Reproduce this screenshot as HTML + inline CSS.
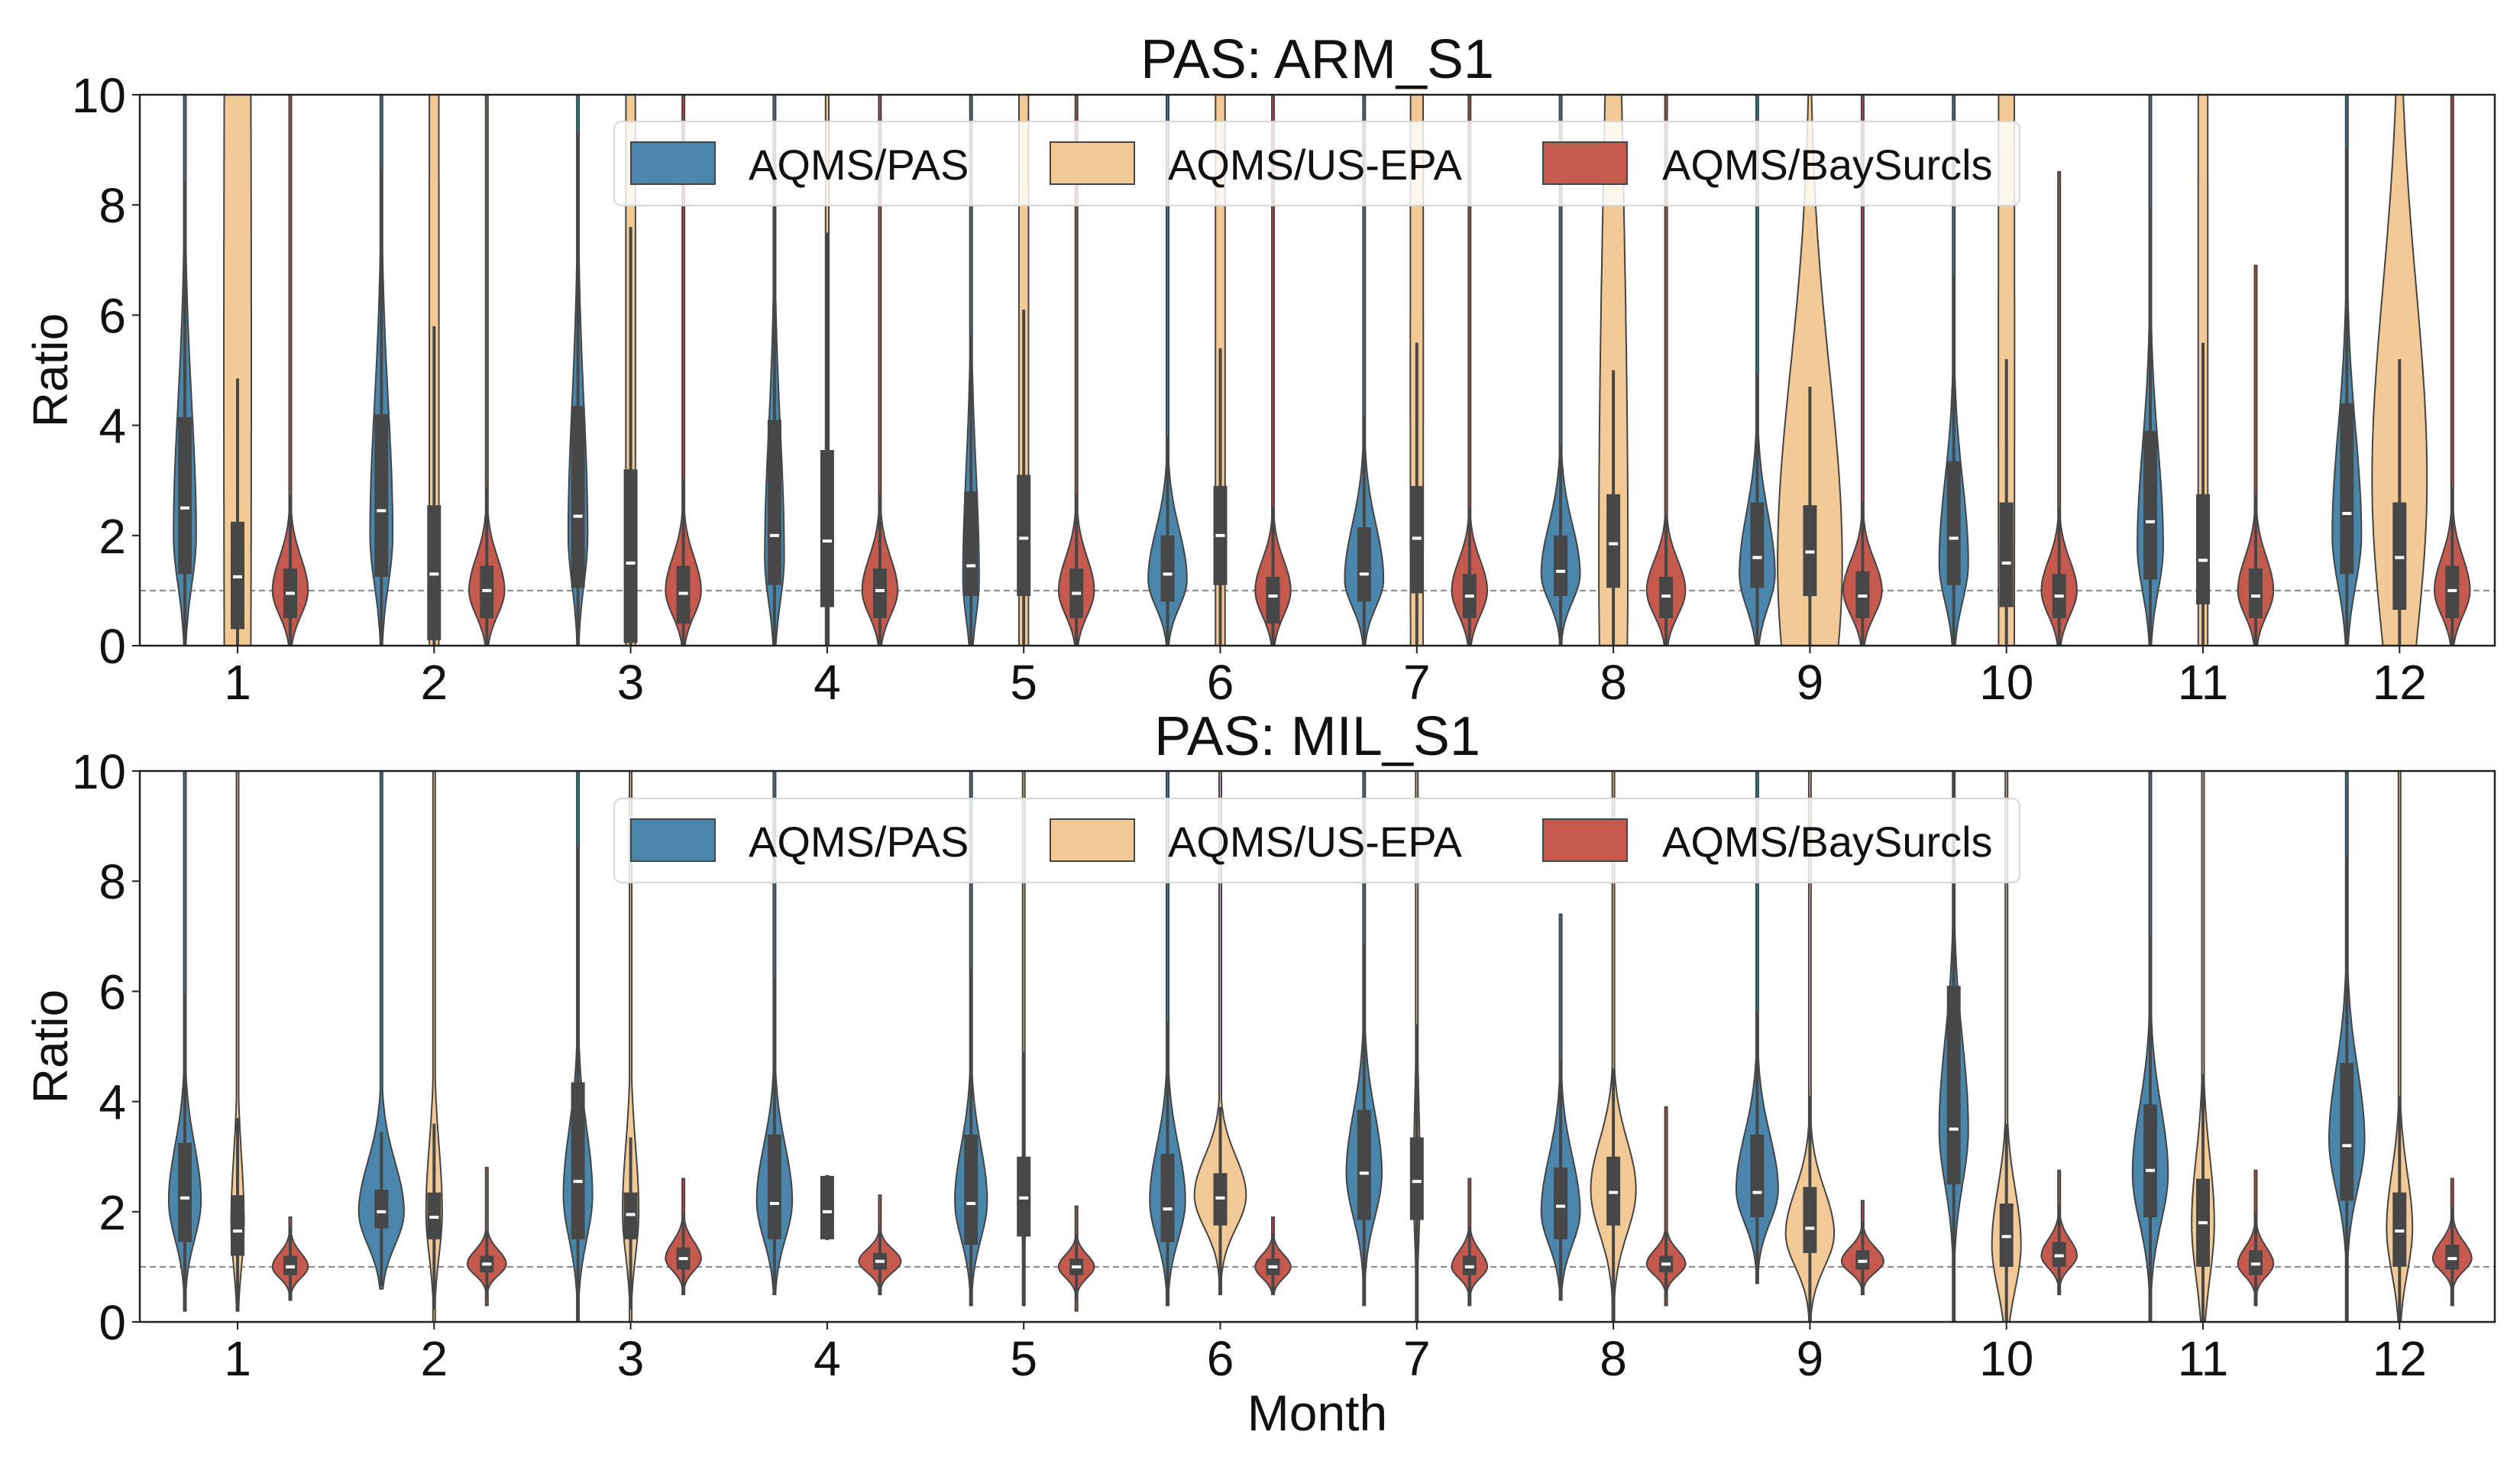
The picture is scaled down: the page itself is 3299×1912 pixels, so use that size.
<!DOCTYPE html>
<html><head><meta charset="utf-8">
<style>
html,body{margin:0;padding:0;background:#fff;}
svg{display:block;font-family:"Liberation Sans Narrow","Liberation Sans","DejaVu Sans",sans-serif;}
</style></head>
<body>
<svg id="chart" width="3299" height="1912" viewBox="0 0 3299 1912" xmlns="http://www.w3.org/2000/svg"></svg>
<script>
const months = [1,2,3,4,5,6,7,8,9,10,11,12];
const yTicks = [0,2,4,6,8,10];
const seriesNames = ["AQMS/PAS","AQMS/US-EPA","AQMS/BaySurcls"];

// ---- Panel 1: ARM_S1 ----
const armPasMed  = [2.5,2.45,2.35,2.0,1.45,1.3,1.3,1.35,1.6,1.95,2.25,2.4];
const armPasQ1   = [1.3,1.25,1.05,1.1,0.9,0.8,0.8,0.9,1.05,1.1,1.2,1.3];
const armPasQ3   = [4.15,4.2,4.35,4.1,2.8,2.0,2.15,2.0,2.6,3.35,3.9,4.4];
const armPasPeak = [2.0,2.0,2.0,1.6,1.2,1.2,1.2,1.3,1.3,1.5,1.8,2.0];
const armPasW    = [7,7,6,6,5,12,12,12,11,9,8,9];
const armPasSLo  = [0.9,0.9,0.9,0.8,0.7,0.5,0.5,0.5,0.6,0.7,0.8,0.9];
const armPasSHi  = [2.4,2.4,2.4,2.3,2.0,0.9,1.0,0.9,1.1,1.5,1.8,1.9];
const armPasLo   = [0,0,0,0,0,0,0,0,0,0,0,0];
const armPasHi   = [10,10,10,10,10,10,10,10,10,10,10,10];

const armEpaMed  = [1.25,1.3,1.5,1.9,1.95,2.0,1.95,1.85,1.7,1.5,1.55,1.6];
const armEpaQ1   = [0.3,0.1,0.05,0.7,0.9,1.1,0.95,1.05,0.9,0.7,0.75,0.65];
const armEpaQ3   = [2.25,2.55,3.2,3.55,3.1,2.9,2.9,2.75,2.55,2.6,2.75,2.6];
const armEpaWhi  = [4.85,5.8,7.6,7.5,6.1,5.4,5.5,5.0,4.7,5.2,5.5,5.2];
const armEpaPeak = [5,5,5,5,5,5,5,1.5,1.5,5,5,3.0];
const armEpaW    = [8.5,3,3,1,3,3,4,9,20,5,3,17];
const armEpaSLo  = [20,20,20,20,20,20,20,5,3,20,20,3];
const armEpaSHi  = [20,20,20,20,20,20,20,8,3.5,20,20,3.5];
const armEpaLo   = [0,0,0,0,0,0,0,0,0,0,0,0];
const armEpaHi   = [10,10,10,10,10,10,10,10,10,10,10,10];

const armBayMed  = [0.95,1.0,0.95,1.0,0.95,0.9,0.9,0.9,0.9,0.9,0.9,1.0];
const armBayQ1   = [0.5,0.5,0.4,0.5,0.5,0.4,0.5,0.5,0.5,0.5,0.5,0.5];
const armBayQ3   = [1.4,1.45,1.45,1.4,1.4,1.25,1.3,1.25,1.35,1.3,1.4,1.45];
const armBayPeak = [1.0,1.0,1.0,1.0,1.0,1.0,1.0,1.0,1.0,1.0,1.0,1.0];
const armBayW    = [11,11,11,11,11,11,11,12,12,11,11,11];
const armBaySLo  = [0.45,0.45,0.45,0.45,0.45,0.45,0.45,0.45,0.45,0.45,0.45,0.45];
const armBaySHi  = [0.6,0.6,0.6,0.6,0.6,0.55,0.55,0.55,0.55,0.55,0.6,0.6];
const armBayLo   = [0,0,0,0,0,0,0,0,0,0,0,0];
const armBayHi   = [10,10,10,10,10,10,10,10,10,8.6,6.9,10];

// ---- Panel 2: MIL_S1 ----
const milPasMed  = [2.25,2.0,2.55,2.15,2.15,2.05,2.7,2.1,2.35,3.5,2.75,3.2];
const milPasQ1   = [1.45,1.7,1.5,1.5,1.4,1.45,1.85,1.5,1.9,2.5,1.9,2.2];
const milPasQ3   = [3.25,2.4,4.35,3.4,3.4,3.05,3.85,2.8,3.4,6.1,3.95,4.7];
const milPasPeak = [2.2,2.0,2.3,2.2,2.2,2.2,2.7,2.0,2.4,3.5,2.7,3.3];
const milPasW    = [10,14,9,11,10,11,11,12,13,9,11,11];
const milPasSLo  = [0.7,0.6,0.8,0.7,0.7,0.7,0.8,0.6,0.6,1.0,0.9,0.9];
const milPasSHi  = [1.0,0.9,1.2,1.0,1.0,1.0,1.1,1.0,1.0,1.6,1.2,1.3];
const milPasLo   = [0.2,0.6,0,0.5,0.3,0.3,0.3,0.4,0.7,0,0,0];
const milPasHi   = [10,10,10,10,10,10,10,7.4,10,10,10,10];

const milEpaMed  = [1.65,1.9,1.95,2.0,2.25,2.25,2.55,2.35,1.7,1.55,1.8,1.65];
const milEpaQ1   = [1.2,1.5,1.5,1.5,1.55,1.75,1.85,1.75,1.25,1.0,1.0,1.0];
const milEpaQ3   = [2.3,2.35,2.35,2.65,3.0,2.7,3.35,3.0,2.45,2.15,2.6,2.35];
const milEpaWhi  = [3.7,3.6,3.35,2.65,4.9,3.9,5.4,4.6,4.1,3.6,4.5,4.1];
const milEpaPeak = [1.8,2.0,2.0,2.0,2.2,2.3,2.5,2.4,1.6,1.4,1.8,1.7];
const milEpaW    = [4,5,5,1,1,16,2,14,15,9,7,8];
const milEpaSLo  = [0.8,0.8,0.8,1,1,0.6,1,0.8,0.6,0.8,1.0,0.8];
const milEpaSHi  = [1.2,1.2,1.2,1,1,0.7,1.5,0.9,0.8,1.0,1.2,1.0];
const milEpaLo   = [0.2,0,0,1.5,0.3,0.5,0,0,0,0,0,0];
const milEpaHi   = [10,10,10,2.65,10,10,10,10,10,10,10,10];

const milBayMed  = [1.0,1.05,1.15,1.1,1.0,1.0,1.0,1.05,1.1,1.2,1.05,1.15];
const milBayQ1   = [0.85,0.9,0.95,0.95,0.85,0.85,0.85,0.9,0.95,1.0,0.85,0.95];
const milBayQ3   = [1.2,1.2,1.35,1.25,1.15,1.15,1.2,1.2,1.3,1.45,1.3,1.4];
const milBayPeak = [1.0,1.05,1.15,1.1,1.0,1.0,1.0,1.05,1.1,1.2,1.05,1.15];
const milBayW    = [11,12,11,13,11,11,11,12,13,11,11,12];
const milBaySLo  = [0.2,0.2,0.22,0.2,0.2,0.2,0.2,0.2,0.2,0.22,0.22,0.22];
const milBaySHi  = [0.25,0.25,0.3,0.22,0.22,0.22,0.28,0.25,0.25,0.3,0.3,0.3];
const milBayLo   = [0.4,0.3,0.5,0.5,0.2,0.5,0.3,0.3,0.5,0.5,0.3,0.3];
const milBayHi   = [1.9,2.8,2.6,2.3,2.1,1.9,2.6,3.9,2.2,2.75,2.75,2.6];

const NS = "http://www.w3.org/2000/svg";
const svg = document.getElementById('chart');
const COLORS = ["#4a86ab","#f3ca95","#c6594d"];
const PX = 2.115;
const xLeft = 183, xRight = 3266;
function xScale(m, k){ return 311 + (m-1)*257.3 + (k-1)*69; }
function mk(tag, attrs, parent){
  const e = document.createElementNS(NS, tag);
  for (const a in attrs) e.setAttribute(a, attrs[a]);
  (parent||svg).appendChild(e);
  return e;
}
function txt(s, attrs, parent){ const e = mk('text', attrs, parent); e.textContent = s; return e; }

function panel(cfg){
  const yTop = cfg.yTop, yBot = cfg.yBot;
  const yScale = v => yBot - (v/10)*(yBot-yTop);
  const g = mk('g', {});
  
  
  const clipId = cfg.name + '-clip';
  const cp = mk('clipPath', {id: clipId}, g);
  mk('rect', {x:xLeft, y:yTop, width:xRight-xLeft, height:yBot-yTop}, cp);
  const t = txt(cfg.title, {x:(xLeft+xRight)/2, y:cfg.titleY, 'font-size':72, 'text-anchor':'middle', fill:'#111'}, g);
  
  
  yTicks.forEach(v => {
    const y = yScale(v);
    mk('line', {x1:xLeft-10, x2:xLeft, y1:y, y2:y, stroke:'#222', 'stroke-width':2}, g);
    const tl = txt(String(v), {x:xLeft-18, y:y+23, 'font-size':64, 'text-anchor':'end', fill:'#111'}, g);
    
    
  });
  const yl = txt('Ratio', {x:0, y:0, 'font-size':64, 'text-anchor':'middle', fill:'#111', transform:`translate(88,${(yTop+yBot)/2}) rotate(-90)`}, g);
  
  
  months.forEach(m => {
    const x = xScale(m,1);
    mk('line', {x1:x, x2:x, y1:yBot, y2:yBot+10, stroke:'#222', 'stroke-width':2}, g);
    const xl = txt(String(m), {x:x, y:yBot+70, 'font-size':64, 'text-anchor':'middle', fill:'#111'}, g);
    
    
  });
  const body = mk('g', {'clip-path':`url(#${clipId})`}, g);
  const rl = mk('line', {x1:xLeft, x2:xRight, y1:yScale(1), y2:yScale(1), stroke:'#888', 'stroke-width':2, 'stroke-dasharray':'8,5'}, body);
  
  
  cfg.series.forEach((s, k) => {
    months.forEach((m, i) => {
      const cx = xScale(m, k);
      const lo = s.lo[i], hi = s.hi[i];
      const steps = 120;
      const right = [], left = [];
      for (let j=0;j<=steps;j++){
        const v = lo + (hi-lo)*j/steps;
        const sd = v < s.peak[i] ? s.sLo[i] : s.sHi[i];
        let w = s.w[i]*PX*Math.exp(-0.5*Math.pow((v-s.peak[i])/sd,2));
        if (w < 1.5) w = 1.5;
        right.push(`${(cx+w).toFixed(1)},${yScale(v).toFixed(1)}`);
        left.unshift(`${(cx-w).toFixed(1)},${yScale(v).toFixed(1)}`);
      }
      const vg = mk('g', {}, body);
      
      
      mk('polygon', {points:right.concat(left).join(' '), fill:COLORS[k], stroke:'#444', 'stroke-width':2}, vg);
      const iqr = s.q3[i]-s.q1[i];
      const wlo = Math.max(lo, s.q1[i]-1.5*iqr);
      const whi = s.whi ? s.whi[i] : Math.min(hi, s.q3[i]+1.5*iqr);
      mk('line', {x1:cx, x2:cx, y1:yScale(wlo), y2:yScale(whi), stroke:'#474747', 'stroke-width':4}, vg);
      mk('rect', {x:cx-9, y:yScale(s.q3[i]), width:18, height:yScale(s.q1[i])-yScale(s.q3[i]), fill:'#474747'}, vg);
      mk('line', {x1:cx-6, x2:cx+6, y1:yScale(s.med[i]), y2:yScale(s.med[i]), stroke:'#fff', 'stroke-width':4}, vg);
    });
  });
  mk('rect', {x:xLeft, y:yTop, width:xRight-xLeft, height:yBot-yTop, fill:'none', stroke:'#222', 'stroke-width':2.5}, g);
  const lg = mk('g', {}, g);
  
  
  const ly = cfg.legendY;
  mk('rect', {x:804, y:ly, width:1840, height:110, rx:10, fill:'rgba(255,255,255,0.82)', stroke:'#d8d8d8', 'stroke-width':2}, lg);
  const px = [826, 1375, 2020], tx = [980, 1529, 2176];
  seriesNames.forEach((n, k) => {
    const le = mk('g', {}, lg);
    
    
    mk('rect', {x:px[k], y:ly+27, width:110, height:55, fill:COLORS[k], stroke:'#444', 'stroke-width':2}, le);
    txt(n, {x:tx[k], y:ly+76, 'font-size':56, fill:'#111'}, le);
  });
}

panel({name:'panel-arm-s1', short:'arm', title:'PAS: ARM_S1', yTop:124, yBot:845, titleY:102, legendY:159,
  series:[
    {med:armPasMed,q1:armPasQ1,q3:armPasQ3,peak:armPasPeak,w:armPasW,sLo:armPasSLo,sHi:armPasSHi,lo:armPasLo,hi:armPasHi},
    {med:armEpaMed,q1:armEpaQ1,q3:armEpaQ3,whi:armEpaWhi,peak:armEpaPeak,w:armEpaW,sLo:armEpaSLo,sHi:armEpaSHi,lo:armEpaLo,hi:armEpaHi},
    {med:armBayMed,q1:armBayQ1,q3:armBayQ3,peak:armBayPeak,w:armBayW,sLo:armBaySLo,sHi:armBaySHi,lo:armBayLo,hi:armBayHi}
  ]});
panel({name:'panel-mil-s1', short:'mil', title:'PAS: MIL_S1', yTop:1009, yBot:1730, titleY:988, legendY:1045,
  series:[
    {med:milPasMed,q1:milPasQ1,q3:milPasQ3,peak:milPasPeak,w:milPasW,sLo:milPasSLo,sHi:milPasSHi,lo:milPasLo,hi:milPasHi},
    {med:milEpaMed,q1:milEpaQ1,q3:milEpaQ3,whi:milEpaWhi,peak:milEpaPeak,w:milEpaW,sLo:milEpaSLo,sHi:milEpaSHi,lo:milEpaLo,hi:milEpaHi},
    {med:milBayMed,q1:milBayQ1,q3:milBayQ3,peak:milBayPeak,w:milBayW,sLo:milBaySLo,sHi:milBaySHi,lo:milBayLo,hi:milBayHi}
  ]});
const xt = txt('Month', {x:(xLeft+xRight)/2, y:1872, 'font-size':66, 'text-anchor':'middle', fill:'#111'});


</script>
</body></html>
